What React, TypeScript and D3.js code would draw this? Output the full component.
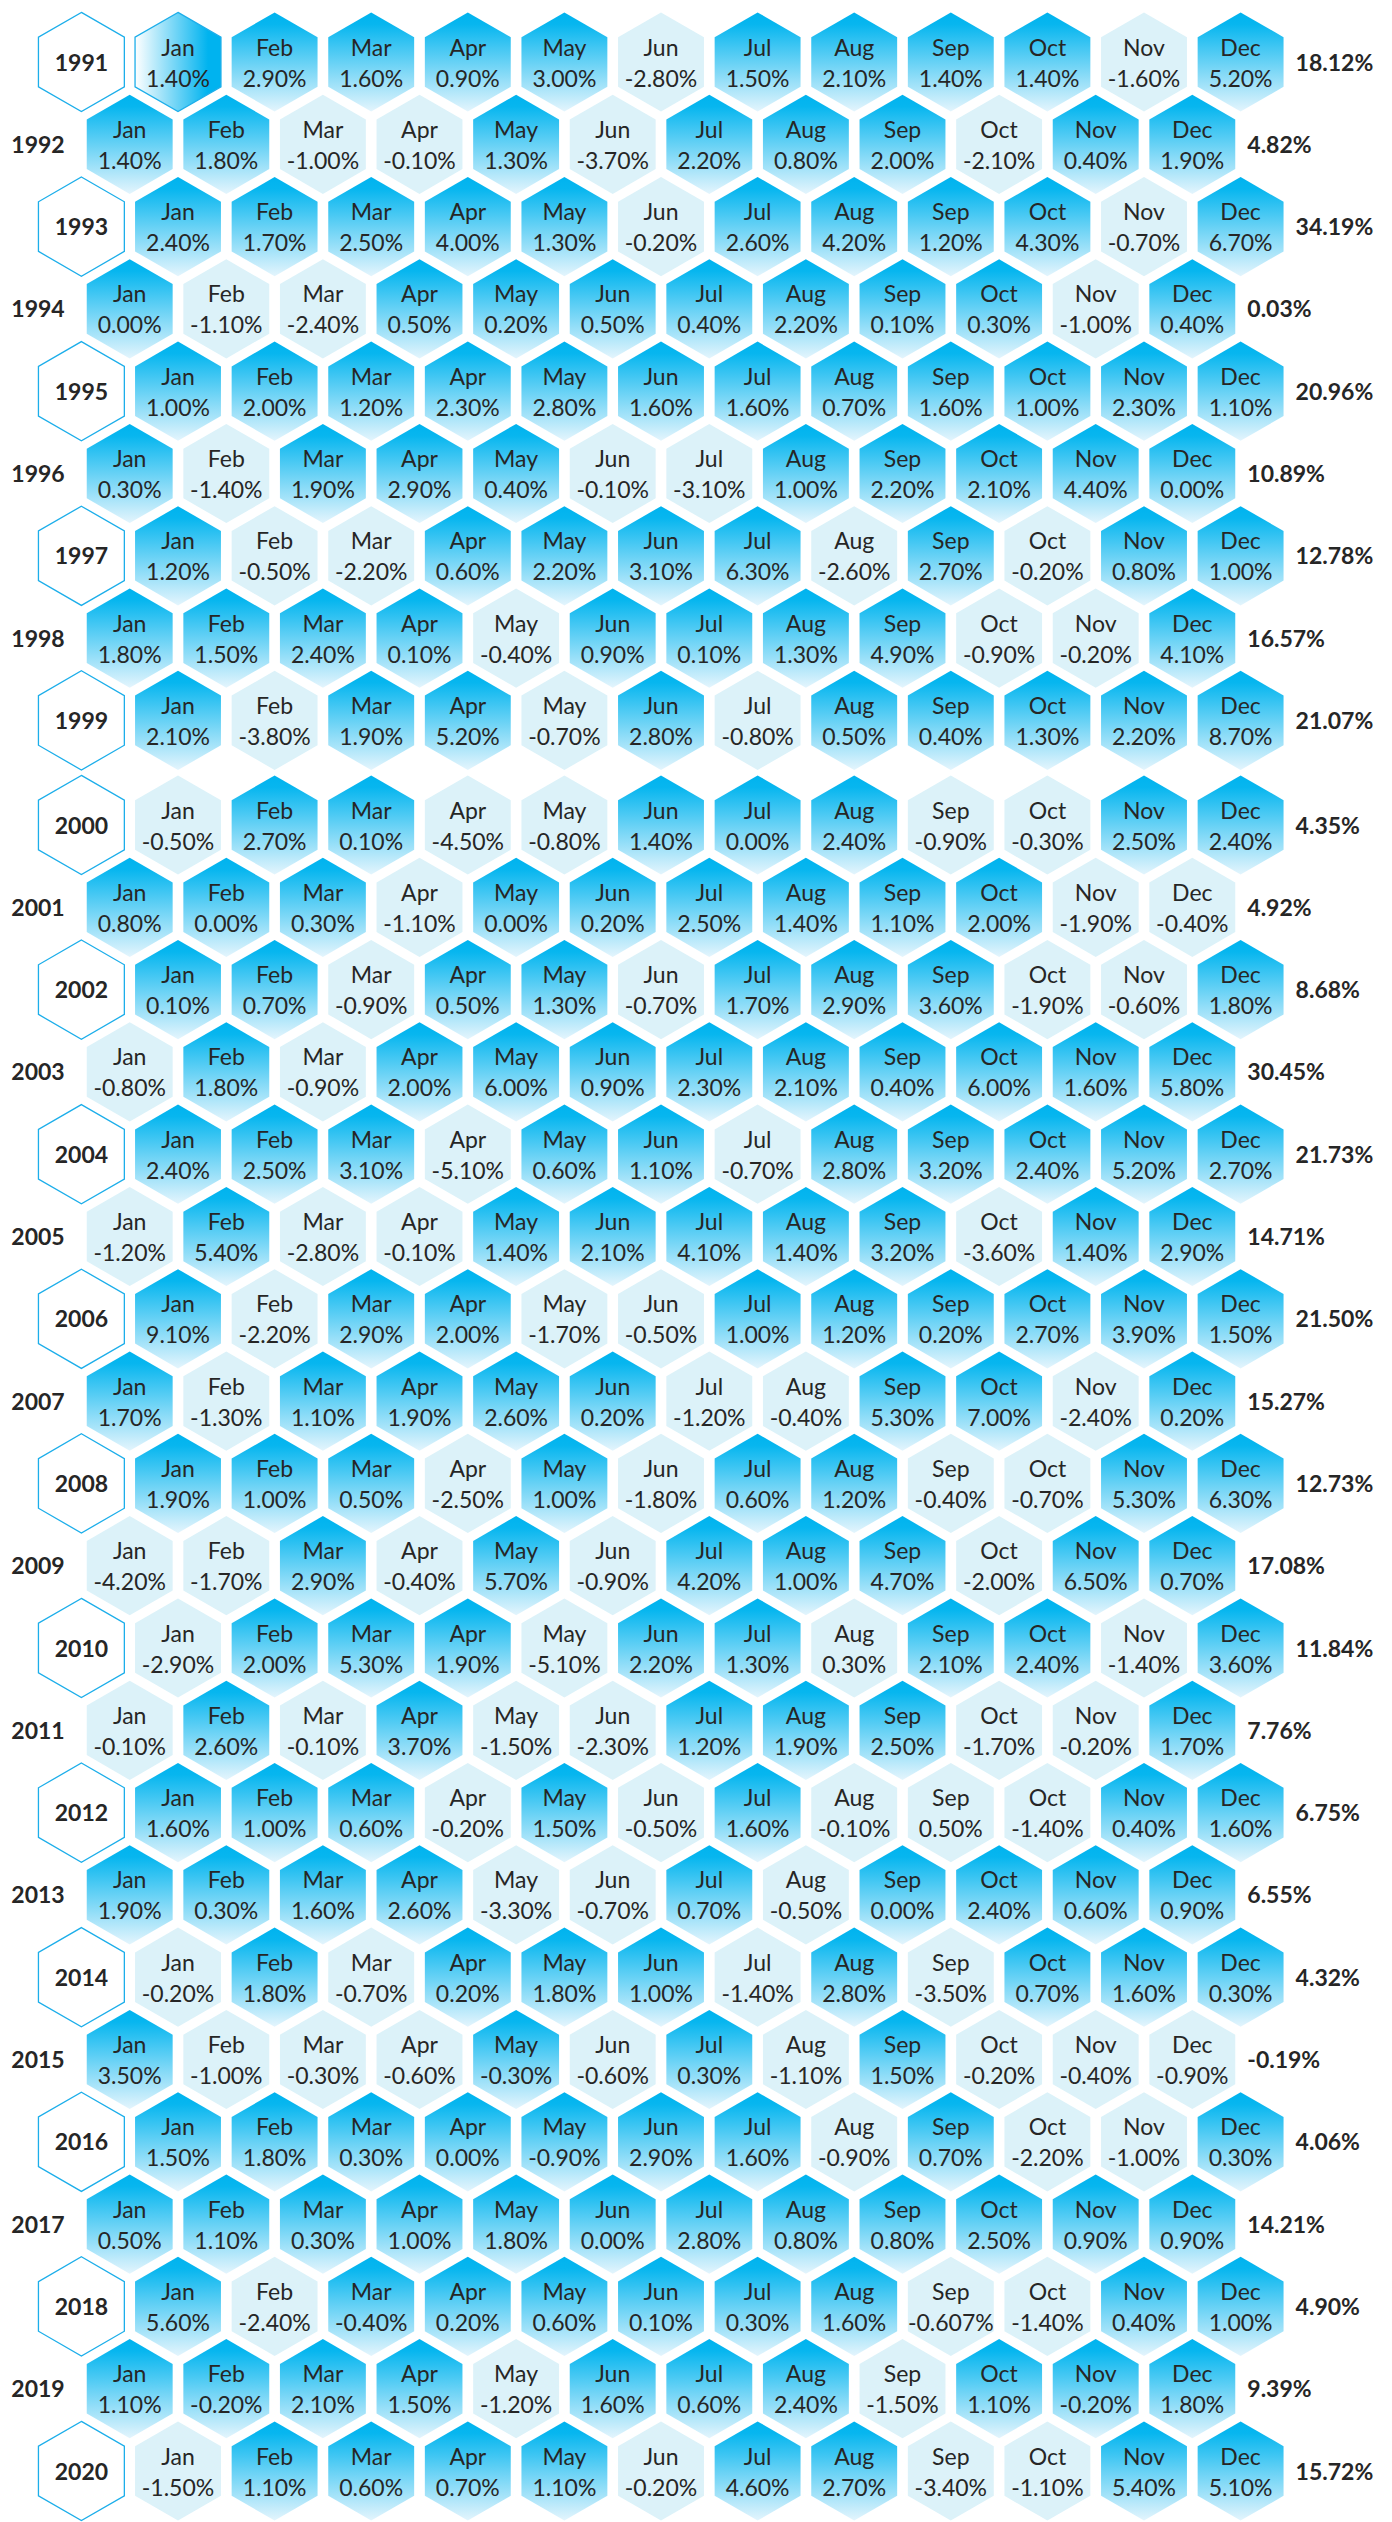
import { useMemo } from "react";
import * as d3 from "d3";

const months = ["Jan", "Feb", "Mar", "Apr", "May", "Jun", "Jul", "Aug", "Sep", "Oct", "Nov", "Dec"];

const years = [
  1991, 1992, 1993, 1994, 1995, 1996, 1997, 1998, 1999, 2000, 2001, 2002, 2003, 2004, 2005,
  2006, 2007, 2008, 2009, 2010, 2011, 2012, 2013, 2014, 2015, 2016, 2017, 2018, 2019, 2020,
];

// monthly returns (%)
const monthly = [
  [1.4, 2.9, 1.6, 0.9, 3.0, -2.8, 1.5, 2.1, 1.4, 1.4, -1.6, 5.2],
  [1.4, 1.8, -1.0, -0.1, 1.3, -3.7, 2.2, 0.8, 2.0, -2.1, 0.4, 1.9],
  [2.4, 1.7, 2.5, 4.0, 1.3, -0.2, 2.6, 4.2, 1.2, 4.3, -0.7, 6.7],
  [0.0, -1.1, -2.4, 0.5, 0.2, 0.5, 0.4, 2.2, 0.1, 0.3, -1.0, 0.4],
  [1.0, 2.0, 1.2, 2.3, 2.8, 1.6, 1.6, 0.7, 1.6, 1.0, 2.3, 1.1],
  [0.3, -1.4, 1.9, 2.9, 0.4, -0.1, -3.1, 1.0, 2.2, 2.1, 4.4, 0.0],
  [1.2, -0.5, -2.2, 0.6, 2.2, 3.1, 6.3, -2.6, 2.7, -0.2, 0.8, 1.0],
  [1.8, 1.5, 2.4, 0.1, -0.4, 0.9, 0.1, 1.3, 4.9, -0.9, -0.2, 4.1],
  [2.1, -3.8, 1.9, 5.2, -0.7, 2.8, -0.8, 0.5, 0.4, 1.3, 2.2, 8.7],
  [-0.5, 2.7, 0.1, -4.5, -0.8, 1.4, 0.0, 2.4, -0.9, -0.3, 2.5, 2.4],
  [0.8, 0.0, 0.3, -1.1, 0.0, 0.2, 2.5, 1.4, 1.1, 2.0, -1.9, -0.4],
  [0.1, 0.7, -0.9, 0.5, 1.3, -0.7, 1.7, 2.9, 3.6, -1.9, -0.6, 1.8],
  [-0.8, 1.8, -0.9, 2.0, 6.0, 0.9, 2.3, 2.1, 0.4, 6.0, 1.6, 5.8],
  [2.4, 2.5, 3.1, -5.1, 0.6, 1.1, -0.7, 2.8, 3.2, 2.4, 5.2, 2.7],
  [-1.2, 5.4, -2.8, -0.1, 1.4, 2.1, 4.1, 1.4, 3.2, -3.6, 1.4, 2.9],
  [9.1, -2.2, 2.9, 2.0, -1.7, -0.5, 1.0, 1.2, 0.2, 2.7, 3.9, 1.5],
  [1.7, -1.3, 1.1, 1.9, 2.6, 0.2, -1.2, -0.4, 5.3, 7.0, -2.4, 0.2],
  [1.9, 1.0, 0.5, -2.5, 1.0, -1.8, 0.6, 1.2, -0.4, -0.7, 5.3, 6.3],
  [-4.2, -1.7, 2.9, -0.4, 5.7, -0.9, 4.2, 1.0, 4.7, -2.0, 6.5, 0.7],
  [-2.9, 2.0, 5.3, 1.9, -5.1, 2.2, 1.3, 0.3, 2.1, 2.4, -1.4, 3.6],
  [-0.1, 2.6, -0.1, 3.7, -1.5, -2.3, 1.2, 1.9, 2.5, -1.7, -0.2, 1.7],
  [1.6, 1.0, 0.6, -0.2, 1.5, -0.5, 1.6, -0.1, 0.5, -1.4, 0.4, 1.6],
  [1.9, 0.3, 1.6, 2.6, -3.3, -0.7, 0.7, -0.5, 0.0, 2.4, 0.6, 0.9],
  [-0.2, 1.8, -0.7, 0.2, 1.8, 1.0, -1.4, 2.8, -3.5, 0.7, 1.6, 0.3],
  [3.5, -1.0, -0.3, -0.6, -0.3, -0.6, 0.3, -1.1, 1.5, -0.2, -0.4, -0.9],
  [1.5, 1.8, 0.3, 0.0, -0.9, 2.9, 1.6, -0.9, 0.7, -2.2, -1.0, 0.3],
  [0.5, 1.1, 0.3, 1.0, 1.8, 0.0, 2.8, 0.8, 0.8, 2.5, 0.9, 0.9],
  [5.6, -2.4, -0.4, 0.2, 0.6, 0.1, 0.3, 1.6, -0.607, -1.4, 0.4, 1.0],
  [1.1, -0.2, 2.1, 1.5, -1.2, 1.6, 0.6, 2.4, -1.5, 1.1, -0.2, 1.8],
  [-1.5, 1.1, 0.6, 0.7, 1.1, -0.2, 4.6, 2.7, -3.4, -1.1, 5.4, 5.1],
];

// yearly totals (%)
const totals = [
  18.12, 4.82, 34.19, 0.03, 20.96, 10.89, 12.78, 16.57, 21.07, 4.35, 4.92, 8.68, 30.45, 21.73,
  14.71, 21.5, 15.27, 12.73, 17.08, 11.84, 7.76, 6.75, 6.55, 4.32, -0.19, 4.06, 14.21, 4.9,
  9.39, 15.72,
];

// cell tone as shown: B = up (blue), L = down (light), H = highlighted
const tones = [
  "HBBBBLBBBBLB", "BBLLBLBBBLBB", "BBBBBLBBBBLB", "BLLBBBBBBBLB", "BBBBBBBBBBBB",
  "BLBBBLLBBBBB", "BLLBBBBLBLBB", "BBBBLBBBBLLB", "BLBBLBLBBBBB", "LBBLLBBBLLBB",
  "BBBLBBBBBBLL", "BBLBBLBBBLLB", "LBLBBBBBBBBB", "BBBLBBLBBBBB", "LBLLBBBBBLBB",
  "BLBBLLBBBBBB", "BLBBBBLLBBLB", "BBBLBLBBLLBB", "LLBLBLBBBLBB", "LBBBLBBLBBLB",
  "LBLBLLBBBLLB", "BBBLBLBLLLBB", "BBBBLLBLBBBB", "LBLBBBLBLBBB", "BLLLBLBLBLLL",
  "BBBBBBBLBLLB", "BBBBBBBBBBBB", "BLBBBBBBLLBB", "BBBBLBBBLBBB", "LBBBBLBBLLBB",
];

const W = 1392;
const H = 2522;
const R = 49.6;
const FONT = "Lato, 'Open Sans', sans-serif";
const INK = "#262626";
const EDGE = "#1caeea";

function fmt(v: number) {
  const dec = (String(v).split(".")[1] || "").length;
  return v.toFixed(Math.max(2, dec)) + "%";
}

const hexPath = (() => {
  const pts: [number, number][] = d3.range(6).map((k) => {
    const a = ((-90 + 60 * k) * Math.PI) / 180;
    return [R * Math.cos(a), R * Math.sin(a)];
  });
  return d3.line()(pts) + "Z";
})();

export default function App() {
  const x = useMemo(() => d3.scaleLinear().domain([-1, 11]).range([81.4, 1240.6]), []);
  const rowStep = 82.3;
  const blockGap = 22.3;
  const y = useMemo(() => d3.scaleLinear().domain([0, 1]).range([62, 62 + rowStep]), []);
  const half = (x(1) - x(0)) / 2;

  const rows = years.map((yr, i) => {
    const block = yr >= 2000 ? 1 : 0;
    const local = block ? i - 9 : i;
    const outer = local % 2 === 0;
    return {
      yr,
      cy: y(i) + block * blockGap,
      dx: outer ? 0 : -half,
      outer,
      values: monthly[i],
      total: totals[i],
      tone: tones[i],
    };
  });

  return (
    <svg
      width={W}
      height={H}
      style={{ position: "absolute", left: 0, top: 0, background: "#fff" }}
      fontFamily={FONT}
    >
      <defs>
        <linearGradient id="up" x1="0" y1="0" x2="0" y2="1">
          <stop offset="0" stopColor="#00b3ef" />
          <stop offset="0.12" stopColor="#07b6ef" />
          <stop offset="1" stopColor="#e4f5fd" />
        </linearGradient>
        <linearGradient id="hi" x1="0" y1="0" x2="1" y2="0">
          <stop offset="0" stopColor="#ffffff" />
          <stop offset="0.85" stopColor="#00b3ef" />
          <stop offset="1" stopColor="#00b3ef" />
        </linearGradient>
      </defs>
      {rows.map((r) => (
        <g key={r.yr}>
          {r.outer ? (
            <g transform={`translate(${x(-1)},${r.cy})`}>
              <path d={hexPath} fill="#fff" stroke={EDGE} strokeWidth={1.3} />
              <text y={8.5} textAnchor="middle" fontSize={23} fontWeight={700} fill={INK}>
                {r.yr}
              </text>
            </g>
          ) : (
            <text x={38} y={r.cy + 8.5} textAnchor="middle" fontSize={23} fontWeight={700} fill={INK}>
              {r.yr}
            </text>
          )}
          {r.values.map((v, m) => {
            const t = r.tone[m];
            const fill = t === "B" ? "url(#up)" : t === "H" ? "url(#hi)" : "#dcf2f9";
            return (
              <g key={m} transform={`translate(${x(m) + r.dx},${r.cy})`}>
                <path
                  d={hexPath}
                  fill={fill}
                  stroke={t === "H" ? EDGE : "none"}
                  strokeWidth={1.3}
                />
                <text y={-6.5} textAnchor="middle" fontSize={23} fill={INK}>
                  {months[m]}
                </text>
                <text y={24.5} textAnchor="middle" fontSize={23} fill={INK}>
                  {fmt(v)}
                </text>
              </g>
            );
          })}
          <text
            x={x(11) + r.dx + 55}
            y={r.cy + 8.5}
            fontSize={23}
            fontWeight={700}
            fill={INK}
          >
            {r.total.toFixed(2) + "%"}
          </text>
        </g>
      ))}
    </svg>
  );
}
